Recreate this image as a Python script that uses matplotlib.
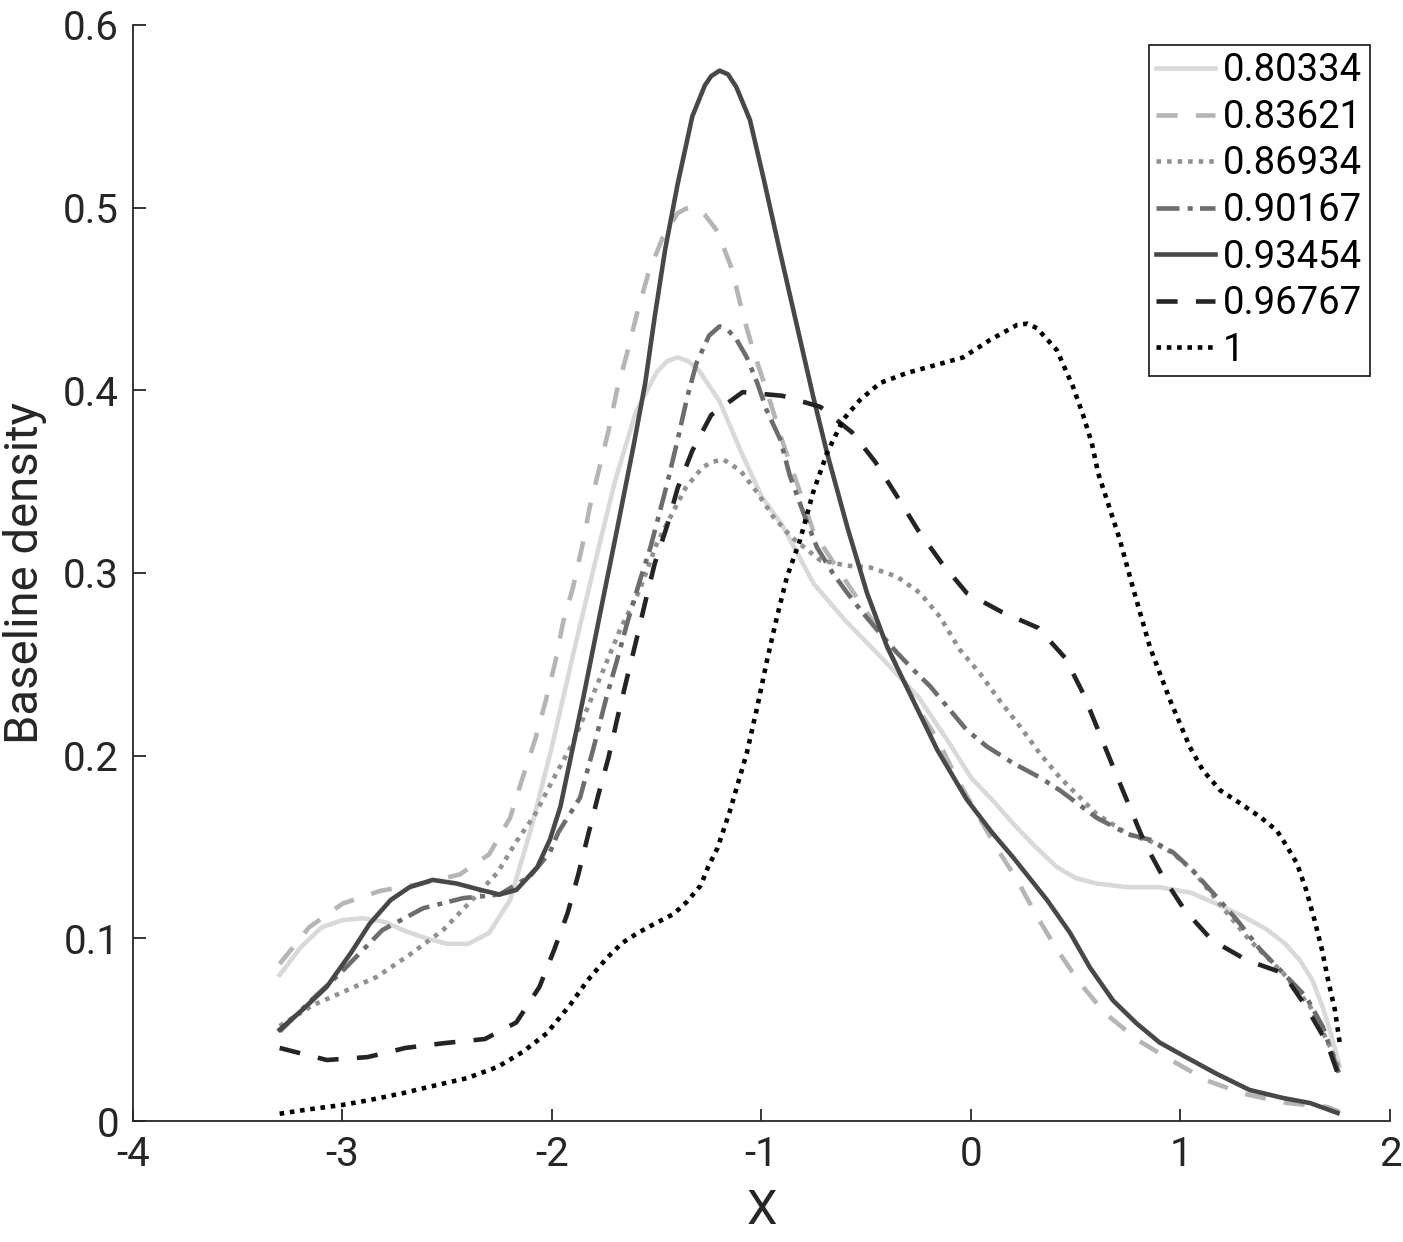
import matplotlib
matplotlib.use("Agg")
import matplotlib.pyplot as plt

plt.rcParams['font.family'] = ['Roboto', 'DejaVu Sans']
plt.rcParams['axes.unicode_minus'] = False

labels = ["0.80334", "0.83621", "0.86934", "0.90167", "0.93454", "0.96767", "1"]

x1 = [-3.3, -3.2, -3.1, -3.0, -2.9, -2.8, -2.7, -2.6, -2.5, -2.4, -2.3, -2.2, -2.1, -2.0,
      -1.9, -1.8, -1.7, -1.6, -1.5, -1.45, -1.4, -1.35, -1.3, -1.2, -1.1, -1.0, -0.9, -0.75,
      -0.6, -0.43, -0.25, -0.11, 0.0, 0.1, 0.2, 0.3, 0.41, 0.5, 0.6, 0.75, 0.9, 1.05, 1.17,
      1.3, 1.41, 1.5, 1.57, 1.63, 1.68, 1.72, 1.76]
y1 = [0.080, 0.095, 0.106, 0.110, 0.111, 0.109, 0.104, 0.100, 0.097, 0.097, 0.103, 0.121,
      0.160, 0.205, 0.255, 0.303, 0.350, 0.388, 0.410, 0.416, 0.418, 0.416, 0.411, 0.394,
      0.367, 0.342, 0.326, 0.294, 0.274, 0.254, 0.232, 0.208, 0.188, 0.176, 0.163, 0.151,
      0.139, 0.133, 0.130, 0.128, 0.128, 0.125, 0.119, 0.112, 0.105, 0.097, 0.088, 0.077,
      0.062, 0.047, 0.030]

x2 = [-3.3, -3.16, -3.0, -2.82, -2.62, -2.44, -2.3, -2.2, -2.14, -2.08, -2.03, -1.985,
      -1.947, -1.9, -1.857, -1.82, -1.775, -1.73, -1.69, -1.64, -1.59, -1.54, -1.47, -1.4,
      -1.36, -1.33, -1.3, -1.27, -1.21, -1.14, -1.09, -1.04, -0.97, -0.9, -0.8, -0.75, -0.6,
      -0.43, -0.26, -0.16, -0.07, 0.02, 0.12, 0.22, 0.315, 0.41, 0.52, 0.64, 0.8, 0.96,
      1.13, 1.3, 1.5, 1.7, 1.76]
y2 = [0.086, 0.106, 0.119, 0.126, 0.130, 0.135, 0.146, 0.166, 0.188, 0.209, 0.230, 0.251,
      0.273, 0.292, 0.314, 0.336, 0.357, 0.378, 0.400, 0.421, 0.444, 0.464, 0.484, 0.497,
      0.4995, 0.500, 0.499, 0.496, 0.487, 0.466, 0.442, 0.422, 0.398, 0.372, 0.339, 0.322,
      0.296, 0.267, 0.227, 0.209, 0.188, 0.170, 0.150, 0.132, 0.112, 0.094, 0.0755, 0.059,
      0.044, 0.033, 0.022, 0.015, 0.010, 0.0077, 0.005]

x3 = [-3.3, -3.14, -3.01, -2.835, -2.68, -2.52, -2.39, -2.26, -2.17, -2.08, -1.995, -1.9,
      -1.78, -1.675, -1.58, -1.5, -1.42, -1.36, -1.28, -1.23, -1.18, -1.1, -1.02, -0.945,
      -0.86, -0.72, -0.59, -0.48, -0.353, -0.243, -0.148, -0.053, 0.043, 0.138, 0.234, 0.33,
      0.425, 0.6, 0.75, 0.86, 0.96, 1.06, 1.2, 1.33, 1.49, 1.62, 1.715, 1.76]
y3 = [0.052, 0.0635, 0.070, 0.079, 0.091, 0.1045, 0.120, 0.136, 0.153, 0.168, 0.187,
      0.207, 0.240, 0.269, 0.291, 0.316, 0.334, 0.347, 0.358, 0.361, 0.362, 0.356, 0.344,
      0.331, 0.320, 0.307, 0.304, 0.303, 0.298, 0.289, 0.276, 0.258, 0.245, 0.230, 0.216,
      0.201, 0.188, 0.168, 0.157, 0.153, 0.147, 0.137, 0.117, 0.099, 0.081, 0.0625, 0.0405,
      0.028]

x4 = [-3.3, -3.15, -3.01, -2.81, -2.615, -2.425, -2.25, -2.105, -2.01, -1.97, -1.866,
      -1.8, -1.74, -1.69, -1.64, -1.58, -1.53, -1.45, -1.4, -1.355, -1.31, -1.25, -1.2,
      -1.16, -1.12, -1.07, -1.02, -0.975, -0.91, -0.864, -0.8, -0.735, -0.66, -0.59, -0.515,
      -0.434, -0.35, -0.275, -0.195, -0.115, -0.02, 0.076, 0.2, 0.33, 0.425, 0.6, 0.75,
      0.855, 0.965, 1.06, 1.17, 1.27, 1.38, 1.49, 1.6, 1.68, 1.76]
y4 = [0.049, 0.066, 0.081, 0.1045, 0.1165, 0.122, 0.124, 0.134, 0.147, 0.158, 0.177,
      0.205, 0.232, 0.252, 0.273, 0.296, 0.314, 0.349, 0.373, 0.396, 0.415, 0.430, 0.435,
      0.433, 0.428, 0.418, 0.404, 0.389, 0.373, 0.353, 0.333, 0.314, 0.300, 0.289, 0.278,
      0.267, 0.256, 0.247, 0.238, 0.227, 0.214, 0.205, 0.196, 0.188, 0.181, 0.166, 0.157,
      0.154, 0.147, 0.137, 0.123, 0.110, 0.094, 0.081, 0.068, 0.0515, 0.025]

x5 = [-3.3, -3.19, -3.075, -2.96, -2.87, -2.77, -2.68, -2.57, -2.455, -2.34, -2.25, -2.17,
      -2.07, -2.01, -1.96, -1.85, -1.77, -1.69, -1.61, -1.555, -1.51, -1.46, -1.4, -1.33,
      -1.27, -1.24, -1.2, -1.16, -1.12, -1.055, -0.99, -0.91, -0.84, -0.754, -0.687, -0.59,
      -0.496, -0.4, -0.277, -0.16, -0.02, 0.1, 0.2, 0.363, 0.473, 0.568, 0.678, 0.79, 0.9,
      1.01, 1.17, 1.33, 1.49, 1.62, 1.75]
y5 = [0.050, 0.061, 0.0735, 0.092, 0.108, 0.121, 0.128, 0.132, 0.130, 0.1265, 0.124,
      0.1265, 0.139, 0.154, 0.172, 0.232, 0.278, 0.3235, 0.370, 0.404, 0.440, 0.477, 0.513,
      0.550, 0.567, 0.572, 0.575, 0.573, 0.566, 0.548, 0.516, 0.475, 0.440, 0.397, 0.3657,
      0.325, 0.289, 0.2595, 0.2305, 0.203, 0.176, 0.158, 0.1445, 0.121, 0.103, 0.084, 0.066,
      0.0535, 0.043, 0.036, 0.026, 0.017, 0.0126, 0.0098, 0.0044]

x6 = [-3.3, -3.075, -2.88, -2.7, -2.51, -2.32, -2.17, -2.06, -1.99, -1.925, -1.875, -1.83,
      -1.78, -1.73, -1.69, -1.645, -1.6, -1.556, -1.51, -1.45, -1.4, -1.33, -1.24, -1.09,
      -0.9, -0.72, -0.568, -0.458, -0.353, -0.253, -0.14, -0.02, 0.148, 0.32, 0.45, 0.536,
      0.607, 0.678, 0.75, 0.83, 0.917, 1.02, 1.15, 1.317, 1.49, 1.6, 1.7, 1.76]
y6 = [0.040, 0.0334, 0.035, 0.040, 0.0427, 0.0449, 0.054, 0.0734, 0.0936, 0.114, 0.1347,
      0.1555, 0.178, 0.199, 0.2195, 0.241, 0.262, 0.2835, 0.305, 0.326, 0.3465, 0.367,
      0.3865, 0.399, 0.397, 0.391, 0.377, 0.361, 0.342, 0.3235, 0.3055, 0.289, 0.2786,
      0.270, 0.2535, 0.234, 0.214, 0.194, 0.174, 0.152, 0.1336, 0.1155, 0.099, 0.088,
      0.081, 0.0625, 0.0427, 0.023]

x7 = [-3.3, -3.155, -3.0, -2.87, -2.71, -2.55, -2.405, -2.26, -2.14, -2.025, -1.914,
      -1.83, -1.74, -1.666, -1.59, -1.51, -1.42, -1.356, -1.29, -1.255, -1.21, -1.15, -1.07,
      -1.02, -0.974, -0.926, -0.878, -0.816, -0.754, -0.687, -0.61, -0.53, -0.434, -0.306,
      -0.163, -0.038, 0.09, 0.22, 0.27, 0.315, 0.41, 0.487, 0.535, 0.577, 0.607, 0.649,
      0.711, 0.773, 0.854, 0.95, 1.045, 1.107, 1.19, 1.284, 1.38, 1.46, 1.51, 1.556, 1.6,
      1.64, 1.675, 1.705, 1.737, 1.76]
y7 = [0.004, 0.0065, 0.0088, 0.0115, 0.0153, 0.0197, 0.0235, 0.0296, 0.0378, 0.048,
      0.0635, 0.077, 0.089, 0.0974, 0.103, 0.108, 0.1133, 0.120, 0.129, 0.139, 0.1494,
      0.170, 0.2015, 0.2267, 0.252, 0.276, 0.298, 0.318, 0.344, 0.3657, 0.384, 0.3947,
      0.404, 0.4095, 0.414, 0.418, 0.4275, 0.4358, 0.4365, 0.434, 0.422, 0.402, 0.3865,
      0.371, 0.3547, 0.340, 0.318, 0.292, 0.2595, 0.2305, 0.2047, 0.192, 0.181, 0.174,
      0.1665, 0.159, 0.150, 0.141, 0.1265, 0.110, 0.094, 0.077, 0.061, 0.043]

xs = [x1, x2, x3, x4, x5, x6, x7]
ys = [y1, y2, y3, y4, y5, y6, y7]
colors = ["#d9d9d9", "#b5b5b5", "#919191", "#6d6d6d", "#484848", "#242424", "#000000"]
dashes = [None, (4.6, 4.0), (1, 1.3), (5.0, 1.8, 1.1, 1.6), None, (4.6, 4.0), (1, 1.25)]

fig = plt.figure(figsize=(14.03, 12.42), dpi=100)
ax = fig.add_axes([0.0948, 0.0974, 0.8959, 0.8825])

for xv, yv, c, d, lab in zip(xs, ys, colors, dashes, labels):
    line, = ax.plot(xv, yv, color=c, lw=3.3, label=lab,
                    solid_joinstyle='round', dash_capstyle='butt')
    if d is not None:
        line.set_dashes(d)

ax.set_xlim(-4, 2)
ax.set_ylim(0, 0.6)
ax.set_xticks([-4, -3, -2, -1, 0, 1, 2])
ax.set_xticklabels(["-4", "-3", "-2", "-1", "0", "1", "2"])
ax.set_yticks([0, 0.1, 0.2, 0.3, 0.4, 0.5, 0.6])
ax.set_yticklabels(["0", "0.1", "0.2", "0.3", "0.4", "0.5", "0.6"])

for s in ['top', 'right']:
    ax.spines[s].set_visible(False)
for s in ['left', 'bottom']:
    ax.spines[s].set_color('#262626')
    ax.spines[s].set_linewidth(1.3)
ax.tick_params(direction='in', length=9, width=1.3, colors='#262626',
               labelsize=29, pad=10)

ax.set_xlabel("X", fontsize=35, color='#262626', labelpad=10)
ax.set_ylabel("Baseline density", fontsize=34, color='#262626', labelpad=12)

leg = ax.legend(loc='upper right', bbox_to_anchor=(0.984, 0.982), fontsize=27.5,
                frameon=True, fancybox=False, edgecolor='#262626', framealpha=1,
                handlelength=1.55, handletextpad=0.2, labelspacing=0.25,
                borderpad=0.2, borderaxespad=0)
leg.get_frame().set_linewidth(1.3)
for t in leg.get_texts():
    t.set_color('#000000')

fig.savefig("out.png", dpi=100)
